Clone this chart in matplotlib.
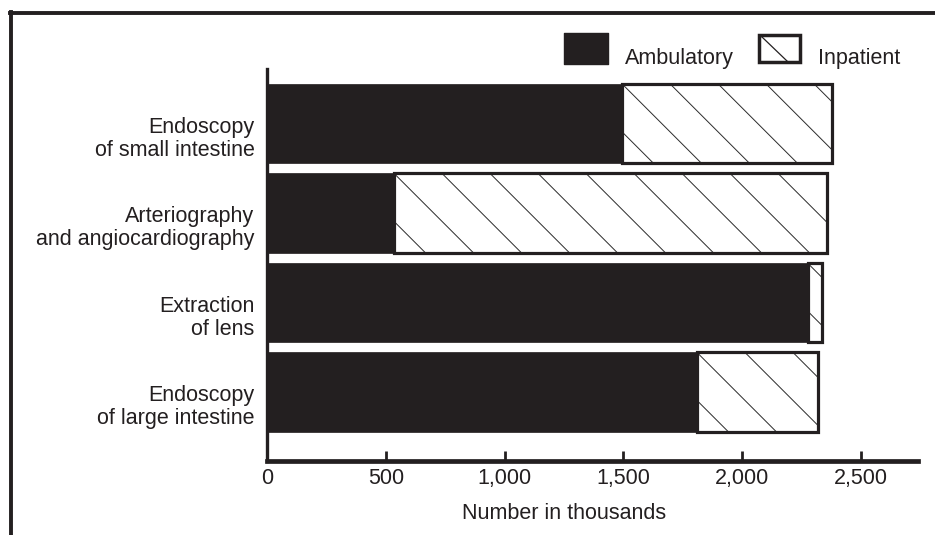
import matplotlib
matplotlib.use('Agg')
import matplotlib.pyplot as plt
import matplotlib.transforms as mtransforms
from matplotlib.patches import Rectangle
from matplotlib.lines import Line2D
from matplotlib.ticker import StrMethodFormatter

# values in thousands, bottom to top
procedures = ['Endoscopy\nof large intestine', 'Extraction\nof lens',
              'Arteriography\nand angiocardiography', 'Endoscopy\nof small intestine']
ambulatory = [1810, 2275, 535, 1495]
inpatient = [510, 63, 1820, 885]
xticks = [0, 500, 1000, 1500, 2000, 2500]

ink = '#231f20'
plt.rcParams['font.family'] = ['Liberation Sans', 'DejaVu Sans']
plt.rcParams['font.size'] = 15.5
plt.rcParams['text.color'] = ink

W, H = 935, 535
fig = plt.figure(figsize=(W / 100, H / 100), dpi=100)
ax = fig.add_axes([267 / W, (H - 461) / H, (918 - 267) / W, (461 - 69) / H])

xmax = 2740
ylo, yhi = -0.77, 3.61
bar_h = 0.885
ypos = list(range(len(procedures)))

ax.barh(ypos, ambulatory, height=bar_h, color=ink, edgecolor=ink, linewidth=0.5, zorder=2)
inp = ax.barh(ypos, inpatient, left=ambulatory, height=bar_h, color='white',
              edgecolor='none', linewidth=0, zorder=2)
ax.barh(ypos, inpatient, left=ambulatory, height=bar_h, color='none',
        edgecolor=ink, linewidth=2.3, zorder=4)

ax.set_xlim(0, xmax)
ax.set_ylim(ylo, yhi)

# sparse diagonal hatching, 45 degrees on screen, starting at each bar's top-left corner
bb = ax.get_position()
sx = bb.width * W / xmax          # px per data unit (x)
sy = bb.height * H / (yhi - ylo)  # px per data unit (y)
step = 48 / sx
for rect in inp.patches:
    x0, w = rect.get_x(), rect.get_width()
    y0, h = rect.get_y(), rect.get_height()
    shift = h * sy / sx
    k = -int(shift / step) - 1
    while x0 + k * step < x0 + w:
        xt = x0 + k * step
        ln, = ax.plot([xt, xt + shift], [y0 + h, y0], color='#2a2a2a', lw=0.7, zorder=3)
        ln.set_clip_path(rect)
        k += 1

for s in ['top', 'right']:
    ax.spines[s].set_visible(False)
ax.spines['left'].set_linewidth(2.4)
ax.spines['bottom'].set_linewidth(3.4)
ax.spines['left'].set_color(ink)
ax.spines['bottom'].set_color(ink)

ax.set_xticks(xticks)
ax.xaxis.set_major_formatter(StrMethodFormatter('{x:,.0f}'))
ax.tick_params(axis='x', direction='in', length=7, width=2, color=ink, pad=5, labelcolor=ink)
ax.set_yticks(ypos, procedures)
ax.tick_params(axis='y', length=0, pad=9, labelcolor=ink)
down = mtransforms.ScaledTranslation(0, -0.115, fig.dpi_scale_trans)
for lab in ax.get_yticklabels():
    lab.set_linespacing(1.15)
    lab.set_transform(lab.get_transform() + down)

ax.set_xlabel('Number in thousands', labelpad=10, color=ink)
ax.xaxis.label.set_x(1250 / xmax)

# partial frame
fig.add_artist(Line2D([10 / W, 1], [1 - 13 / H, 1 - 13 / H], transform=fig.transFigure, lw=2.8, color=ink))
fig.add_artist(Line2D([11 / W, 11 / W], [0, 1 - 12 / H], transform=fig.transFigure, lw=2.8, color=ink))

# legend
fig.add_artist(Rectangle((564 / W, 1 - 64 / H), 44 / W, 31 / H, transform=fig.transFigure,
                         fc=ink, ec=ink, lw=1, joinstyle='round'))
fig.add_artist(Rectangle((759 / W, 1 - 62 / H), 41 / W, 27 / H, transform=fig.transFigure,
                         fc='white', ec=ink, lw=2.5))
fig.add_artist(Line2D([762 / W, 787 / W], [1 - 37 / H, 1 - 61 / H], transform=fig.transFigure,
                      lw=0.9, color=ink))
fig.text(625 / W, 1 - 64 / H, 'Ambulatory', va='baseline', ha='left')
fig.text(818 / W, 1 - 64 / H, 'Inpatient', va='baseline', ha='left')

fig.savefig('out.png', dpi=100)
